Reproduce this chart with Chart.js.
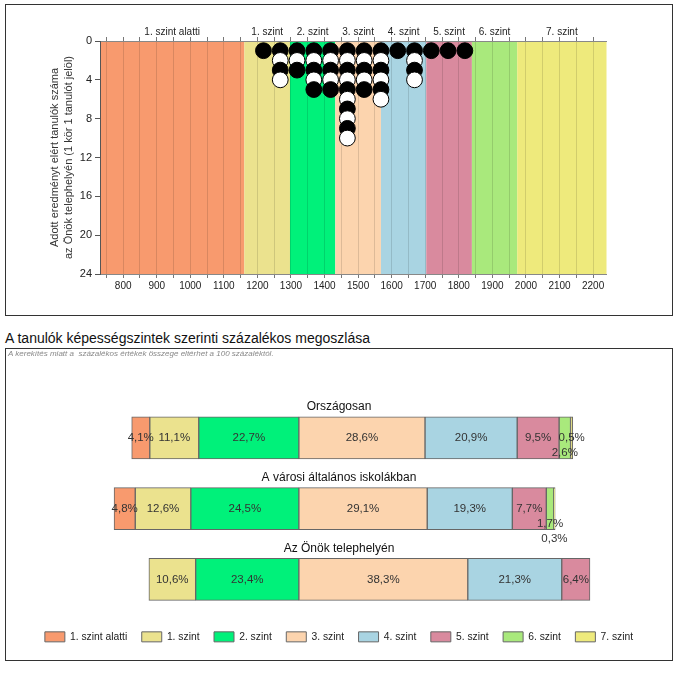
<!DOCTYPE html>
<html>
<head>
<meta charset="utf-8">
<script src="https://cdn.jsdelivr.net/npm/chart.js@4.4.0/dist/chart.umd.min.js"></script>
<style>
  body { margin: 0; background: #fff; font-family: "Liberation Sans", Arial, sans-serif; }
  .page { position: relative; width: 680px; height: 675px; }
  .frame { position: absolute; border: 1px solid #333; box-sizing: border-box; }
  #dotFrame { left: 5px; top: 4px; width: 668px; height: 312px; }
  #barFrame { left: 5px; top: 348px; width: 668px; height: 313px; }
  .frame canvas { position: absolute; left: 0; top: 0; }
  h2 { position: absolute; left: 5px; top: 329px; margin: 0; font-size: 14px; font-weight: normal; color: #111; line-height: 18px; }
  .note { position: absolute; left: 2px; top: 0px; font-size: 8px; font-style: italic; color: #888; z-index: 2; }
</style>
</head>
<body>
<div class="page">
  <div class="frame" id="dotFrame"><canvas id="dotChart" width="666" height="310"></canvas></div>
  <h2>A tanulók képességszintek szerinti százalékos megoszlása</h2>
  <div class="frame" id="barFrame">
    <div class="note">A kerekítés miatt a&nbsp; százalékos értékek összege eltérhet a 100 százaléktól.</div>
    <canvas id="barChart" width="666" height="311"></canvas>
  </div>
</div>
<script>
/* Levels */
const levelNames = ["1. szint alatti", "1. szint", "2. szint", "3. szint", "4. szint", "5. szint", "6. szint", "7. szint"];
const levelColors = ["#F89A6E", "#EBE28E", "#00F17A", "#FCD4AE", "#A9D4E2", "#D98A9E", "#A9E97C", "#EEEA7C"];
/* Score limits between the levels */
const levelBounds = [1161, 1297, 1432, 1568, 1703, 1839, 1974];

/* Top chart: students per score */
const scoreTicks = [800, 900, 1000, 1100, 1200, 1300, 1400, 1500, 1600, 1700, 1800, 1900, 2000, 2100, 2200];
const countTicks = [0, 4, 8, 12, 16, 20, 24];
const dotScores = [1218, 1268, 1318, 1368, 1418, 1468, 1518, 1568, 1618, 1668, 1718, 1768, 1818];
const dotCounts = [1, 4, 3, 5, 5, 10, 5, 6, 1, 4, 1, 1, 1];

/* Bottom chart: percentages per level */
const groupNames = ["Országosan", "A városi általános iskolákban", "Az Önök telephelyén"];
const orszagos = [4.1, 11.1, 22.7, 28.6, 20.9, 9.5, 2.6, 0.5];
const varosi = [4.8, 12.6, 24.5, 29.1, 19.3, 7.7, 1.7, 0.3];
const telephely = [0, 10.6, 23.4, 38.3, 21.3, 6.4, 0, 0];

Chart.defaults.font.family = '"Liberation Sans", Arial, sans-serif';
Chart.defaults.color = "#222";

/* Grid every 50 points */
const gridValues = [];
for (let v = 750; v <= 2200; v += 50) gridValues.push(v);

/* One circle per student, black and white in turn, drawn top to bottom */
const dots = [];
const dotFill = [];
dotScores.forEach((score, i) => {
  for (let k = 1; k <= dotCounts[i]; k++) {
    dots.push({ x: score, y: k });
    dotFill.push(k % 2 ? "#000" : "#fff");
  }
});

/* Coloured level bands + their names above the plot */
const bandPlugin = {
  id: "bands",
  beforeDraw(chart) {
    const { ctx, chartArea: a, scales: { x } } = chart;
    const edges = [x.min, ...levelBounds, x.max];
    ctx.save();
    levelNames.forEach((name, i) => {
      const x0 = x.getPixelForValue(edges[i]);
      const x1 = x.getPixelForValue(edges[i + 1]);
      ctx.fillStyle = levelColors[i];
      ctx.fillRect(x0, a.top, x1 - x0, a.bottom - a.top);
      ctx.fillStyle = "#222";
      ctx.font = '10px "Liberation Sans", Arial, sans-serif';
      ctx.textAlign = "center";
      ctx.textBaseline = "middle";
      ctx.fillText(name, (x0 + x1) / 2, a.top - 9);
    });
    ctx.restore();
  },
};

const xTicksSetup = (scale) => {
  scale.ticks = gridValues.map((v) => ({ value: v }));
};

new Chart(document.getElementById("dotChart"), {
  type: "scatter",
  data: {
    datasets: [
      { data: dots, backgroundColor: dotFill, borderColor: "#000", clip: false },
    ],
  },
  options: {
    responsive: false,
    animation: false,
    layout: { padding: { left: 0, right: 65.5, top: 0, bottom: 11 } },
    plugins: { legend: { display: false }, tooltip: { enabled: false } },
    elements: { point: { radius: 7.9, hoverRadius: 7.9, borderWidth: 1 } },
    scales: {
      x: {
        type: "linear",
        position: "bottom",
        min: 731,
        max: 2240,
        afterBuildTicks: xTicksSetup,
        afterFit: (s) => { s.height = 30; },
        ticks: {
          callback: (v) => (scoreTicks.includes(v) ? String(v) : ""),
          font: { size: 10 },
          maxRotation: 0,
          autoSkip: false,
          padding: 2,
        },
        grid: { color: "rgba(0,0,0,0.12)", tickColor: "#777", tickLength: 4 },
        border: { color: "#888" },
      },
      xTop: {
        axis: "x",
        type: "linear",
        position: "top",
        min: 731,
        max: 2240,
        afterBuildTicks: xTicksSetup,
        afterFit: (s) => { s.height = 36; },
        ticks: { display: false },
        grid: { drawOnChartArea: false, tickColor: "#777", tickLength: 4 },
        border: { color: "#888" },
      },
      y: {
        type: "linear",
        reverse: true,
        min: 0,
        max: 24,
        afterBuildTicks: (s) => { s.ticks = countTicks.map((v) => ({ value: v })); },
        afterFit: (s) => { s.width = 94; },
        ticks: { font: { size: 11 }, padding: 3 },
        grid: { drawOnChartArea: false, tickColor: "#555", tickLength: 5 },
        border: { color: "#555" },
        title: {
          display: true,
          text: ["Adott eredményt elért tanulók száma", "az Önök telephelyén (1 kör 1 tanulót jelöl)"],
          font: { size: 11, lineHeight: 1.27 },
          color: "#333",
          padding: { top: 42, bottom: 0 },
        },
      },
    },
  },
  plugins: [bandPlugin],
});

/* Bars: levels under 3. szint go left of zero, the others to the right */
const groupValues = [orszagos, varosi, telephely];
function segments(values) {
  const out = [];
  let left = 0;
  for (let i = 2; i >= 0; i--) {
    out[i] = [left - values[i], left];
    left -= values[i];
  }
  let right = 0;
  for (let i = 3; i < values.length; i++) {
    out[i] = [right, right + values[i]];
    right += values[i];
  }
  return out.map((seg, i) => (values[i] > 0 ? seg : null));
}
const groupSegs = groupValues.map(segments);

/* Percent labels + group titles */
const segmentLabels = {
  id: "segmentLabels",
  afterDatasetsDraw(chart) {
    const { ctx } = chart;
    // narrow segments whose label is pushed below the bar (rows of 15px)
    const labelDrop = [[0, 0, 0, 0, 0, 0, 1, 0], [0, 0, 0, 0, 0, 0, 1, 2], []];
    ctx.save();
    ctx.textAlign = "center";
    ctx.textBaseline = "middle";
    ctx.fillStyle = "#333";
    ctx.font = '11.5px "Liberation Sans", Arial, sans-serif';
    chart.data.datasets.forEach((ds, i) => {
      chart.getDatasetMeta(i).data.forEach((bar, g) => {
        const v = groupValues[g][i];
        if (!v) return;
        const drop = labelDrop[g][i] || 0;
        const text = v.toFixed(1).replace(".", ",") + "%";
        ctx.fillText(text, (bar.x + bar.base) / 2, bar.y + drop * 15);
      });
    });
    ctx.fillStyle = "#111";
    ctx.font = '12px "Liberation Sans", Arial, sans-serif';
    groupNames.forEach((name, g) => {
      ctx.fillText(name, chart.width / 2, chart.scales.y.getPixelForValue(g) - 31);
    });
    ctx.restore();
  },
};

new Chart(document.getElementById("barChart"), {
  type: "bar",
  data: {
    labels: groupNames,
    datasets: levelNames.map((name, i) => ({
      label: name,
      data: groupSegs.map((s) => s[i]),
      backgroundColor: levelColors[i],
      borderColor: "#666",
      borderWidth: 1,
      borderSkipped: false,
      barThickness: 42,
      grouped: false,
    })),
  },
  options: {
    indexAxis: "y",
    responsive: false,
    animation: false,
    layout: { padding: { left: 0, right: 0, top: 53.5, bottom: 8 } },
    plugins: {
      tooltip: { enabled: false },
      legend: {
        position: "bottom",
        labels: { boxWidth: 20, boxHeight: 10, padding: 14.5, font: { size: 10.3 }, color: "#222" },
      },
    },
    scales: {
      x: {
        min: -66.4,
        max: 84.6,
        afterFit: (s) => { s.height = 2.5; },
        ticks: { display: false },
        grid: { display: false },
        border: { display: false },
      },
      y: { display: false },
    },
  },
  plugins: [segmentLabels],
});
</script>
</body>
</html>
